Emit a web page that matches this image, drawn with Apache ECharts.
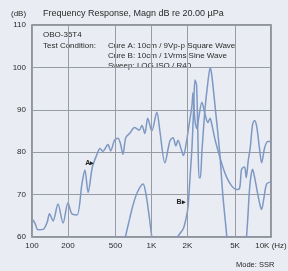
<!DOCTYPE html>
<html><head><meta charset="utf-8">
<script src="https://cdn.jsdelivr.net/npm/echarts@6/dist/echarts.min.js"></script>
<style>html,body{margin:0;padding:0;background:#e9ecf2}#c{width:288px;height:271px}</style>
</head><body><div id="c"></div>
<script>
const xTickValues = [100, 200, 500, 1000, 2000, 5000, 10000];
const xTickLabels = ['100', '200', '500', '1K', '2K', '5K', '10K (Hz)'];
const yTicks = [60, 70, 80, 90, 100, 110];

// Curve A: 10cm / 9Vp-p Square Wave  [Hz, dB]
const curveA = [
  [100,64.3],[106,63.2],[112,61.7],[124,61.8],[134,63.5],[140,65.5],[150,63.8],[165,67.8],[182,63.3],
  [200,68.1],[215,65.5],[238,65.2],[262,72.6],[277,75.8],[295,70.5],[320,76.5],[350,79.5],[370,80.9],
  [392,80.2],[432,81.8],[455,80.3],[490,82.8],[524,83.3],[550,82],[577,79.5],[610,83.5],[660,84.5],
  [720,85.8],[790,85.2],[832,86.3],[880,84.4],[930,88],[1006,85],[1108,89.4],[1175,85],[1294,77.5],
  [1427,82.7],[1513,83.4],[1600,81.5],[1667,82.8],[1780,80.5],[1850,79.2],[1950,82],[2050,86],
  [2180,91],[2222,94],[2310,87.5],[2400,85.6],[2480,88],[2640,91.8],[2800,89],[2970,87],[3087,88],
  [3200,86.5],[3400,83],[3720,79],[3950,76.5],[4270,74],[4700,72],[5160,71.2],[5460,71.5],[5680,76],
  [6010,76.5],[6200,74],[6450,78],[6700,81],[7010,86.5],[7290,87.5],[7600,86],[8000,81],[8350,77.5],
  [8840,81],[9370,82.5],[10000,82.5]
];

// Curve B: 10cm / 1Vrms Sine Wave  [Hz, dB]
const curveB = [
  [560,55],[600,59.5],[640,63],[700,67.5],[760,70.5],[850,72.5],[900,70],[950,65.5],[1000,60.5],
  [1040,57],[1100,55],[1500,55],[1580,58],[1650,60],[1750,61],[1850,62],[1950,64.5],[2020,67],
  [2100,74],[2180,81],[2250,90],[2310,97],[2380,96],[2440,85],[2500,74],[2560,74],[2640,80],
  [2800,90],[2950,96],[3100,100],[3200,98],[3400,91],[3720,80],[3950,70],[4270,60],[4400,55],
  [6000,55],[6200,59],[6380,64],[6600,71],[6800,74.5],[7010,76],[7300,74],[7700,70.5],[8100,67.5],
  [8350,66.5],[8700,69],[9200,72.5],[10000,73]
];

const curveLabels = [
  { text: 'A\u25B8', coord: [305, 77.5] },
  { text: 'B\u25B8', coord: [1770, 68.2] }
];

const font = 'Liberation Sans, Arial, sans-serif';
const lineColor = '#7d98c4';
const gridColor = '#969ba4';

const chart = echarts.init(document.getElementById('c'), null, { renderer: 'canvas' });
chart.setOption({
  backgroundColor: '#e9ecf2',
  animation: false,
  grid: { left: 32, right: 17, top: 25, bottom: 34, show: true, borderColor: '#737881', borderWidth: 1.5, backgroundColor: 'transparent' },
  xAxis: {
    type: 'log', logBase: 10, min: 100, max: 10000,
    axisLine: { show: false }, axisTick: { show: false }, axisLabel: { show: false }, splitLine: { show: false }
  },
  yAxis: {
    type: 'value', min: 60, max: 110, interval: 10,
    axisLine: { show: false }, axisTick: { show: false },
    axisLabel: { fontSize: 8, color: '#2a2a2a', fontFamily: font, margin: 6 },
    splitLine: { lineStyle: { color: gridColor, width: 1 } }
  },
  graphic: [
    { type: 'text', left: 11, top: 10, style: { text: '(dB)', fontSize: 8, fill: '#2a2a2a', fontFamily: font } },
    { type: 'text', left: 43, top: 9, style: { text: 'Frequency Response, Magn dB re 20.00 \u00B5Pa', fontSize: 9, fill: '#2a2a2a', fontFamily: font } },
    { type: 'text', left: 43, top: 31, style: { text: 'OBO-35T4', fontSize: 8, fill: '#2a2a2a', fontFamily: font } },
    { type: 'text', left: 43, top: 42, style: { text: 'Test Condition:', fontSize: 8, fill: '#2a2a2a', fontFamily: font } },
    { type: 'text', left: 108, top: 42, style: { text: 'Cure A: 10cm / 9Vp-p Square Wave', fontSize: 8, fill: '#2a2a2a', fontFamily: font } },
    { type: 'text', left: 108, top: 52, style: { text: 'Cure B: 10cm / 1Vrms Sine Wave', fontSize: 8, fill: '#2a2a2a', fontFamily: font } },
    { type: 'text', left: 108, top: 62, style: { text: 'Sweep: LOG ISO / R40', fontSize: 8, fill: '#2a2a2a', fontFamily: font } },
    { type: 'text', left: 236, top: 261, style: { text: 'Mode: SSR', fontSize: 7.5, fill: '#2a2a2a', fontFamily: font } }
  ],
  series: [
    {
      type: 'line', data: [], silent: true,
      markLine: {
        silent: true, symbol: 'none',
        lineStyle: { color: gridColor, width: 1, type: 'solid' },
        label: { show: true, position: 'start', fontSize: 8, color: '#2a2a2a', fontFamily: font, distance: 5 },
        data: xTickValues.map((v, i) => ({ xAxis: v, label: { formatter: xTickLabels[i] } }))
      }
    },
    {
      name: 'A', type: 'line', data: curveA, showSymbol: false, smooth: 0.3, clip: true,
      lineStyle: { color: lineColor, width: 1.5 },
      markPoint: {
        symbol: 'circle', symbolSize: 0,
        label: { show: true, fontSize: 7, color: '#222', fontFamily: font, fontWeight: 'bold', formatter: p => p.name },
        data: curveLabels.map(l => ({ name: l.text, coord: l.coord }))
      }
    },
    {
      name: 'B', type: 'line', data: curveB, showSymbol: false, smooth: 0.3, clip: true,
      lineStyle: { color: lineColor, width: 1.5 }
    }
  ]
});
</script>
</body></html>
